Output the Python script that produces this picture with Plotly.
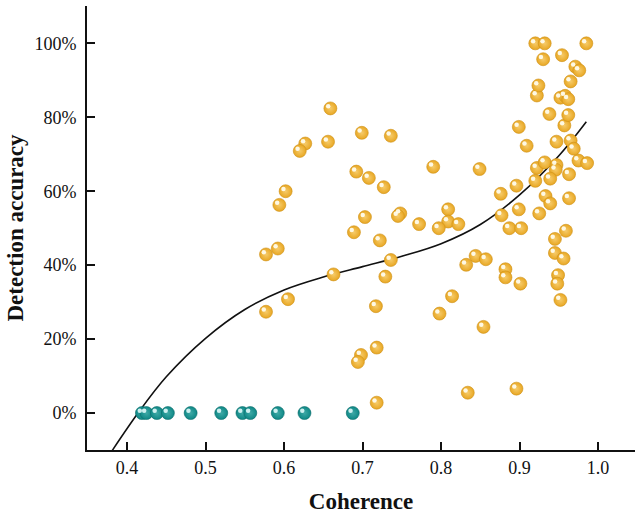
import plotly.graph_objects as go

# ---- data ----
orange_x = [0.659, 0.656, 0.627, 0.620, 0.699, 0.736, 0.602, 0.594, 0.692, 0.708,
            0.727, 0.592, 0.577, 0.703, 0.748, 0.745, 0.689, 0.722, 0.736, 0.729,
            0.663, 0.577, 0.605, 0.717, 0.718, 0.698, 0.694, 0.718,
            0.790, 0.849, 0.899, 0.909, 0.876, 0.896, 0.920, 0.922, 0.932, 0.947,
            0.946, 0.939, 0.963, 0.975, 0.986, 0.947, 0.965, 0.969, 0.957, 0.938,
            0.962, 0.952, 0.958, 0.962, 0.922, 0.924, 0.965, 0.971, 0.976, 0.930,
            0.954, 0.920, 0.932, 0.985, 0.809, 0.809, 0.822, 0.797, 0.772, 0.877,
            0.899, 0.887, 0.902, 0.925, 0.963, 0.933, 0.939, 0.959, 0.945, 0.945,
            0.956, 0.844, 0.857, 0.832, 0.882, 0.882, 0.901, 0.949, 0.948, 0.952,
            0.814, 0.798, 0.854, 0.834, 0.896]
orange_y = [82.4, 73.4, 72.9, 70.9, 75.8, 75.0, 60.0, 56.3, 65.3, 63.6,
            61.1, 44.5, 42.9, 53.0, 54.0, 53.3, 48.9, 46.7, 41.4, 36.9,
            37.5, 27.4, 30.8, 28.9, 17.7, 15.7, 13.8, 2.8,
            66.6, 66.0, 77.4, 72.3, 59.3, 61.5, 62.8, 66.3, 67.8, 67.1,
            65.8, 63.4, 64.6, 68.3, 67.6, 73.4, 73.7, 71.5, 77.8, 80.9,
            80.6, 85.3, 85.8, 84.9, 85.9, 88.6, 89.7, 93.7, 92.7, 95.7,
            96.8, 100.0, 100.0, 100.0, 55.1, 51.8, 51.1, 50.0, 51.1, 53.5,
            55.1, 50.0, 50.0, 54.0, 58.1, 58.7, 56.7, 49.3, 47.1, 43.3,
            41.8, 42.5, 41.6, 40.1, 38.9, 36.7, 35.0, 37.3, 35.0, 30.6,
            31.6, 26.9, 23.3, 5.5, 6.6]

teal_x = [0.419, 0.4246, 0.438, 0.452, 0.481, 0.520, 0.547, 0.557, 0.592, 0.626, 0.6875]
teal_y = [0, 0, 0, 0, 0, 0, 0, 0, 0, 0, 0]

curve_x = [0.376, 0.38, 0.414, 0.45, 0.50, 0.55, 0.60, 0.65, 0.70, 0.75,
           0.80, 0.85, 0.90, 0.95, 0.985]
curve_y = [-11.8, -10.5, 0.0, 9.8, 20.2, 28.0, 33.3, 36.8, 39.6, 42.4,
           45.8, 51.0, 59.0, 69.6, 78.8]

x_ticks = [0.4, 0.5, 0.6, 0.7, 0.8, 0.9, 1.0]
x_labels = ["0.4", "0.5", "0.6", "0.7", "0.8", "0.9", "1.0"]
y_ticks = [0, 20, 40, 60, 80, 100]
y_labels = ["0%", "20%", "40%", "60%", "80%", "100%"]

# ---- layout constants ----
W, H = 635, 514
ML, MR, MT, MB = 87, 0, 6, 64
XR = [0.349, 1.047]
YR = [-10.0, 110.1]
PW, PH = W - ML - MR, H - MT - MB
hx = 2.2 * (XR[1] - XR[0]) / PW   # highlight offset (left)
hy = 2.2 * (YR[1] - YR[0]) / PH   # highlight offset (up)

FONT = "Liberation Serif, Times New Roman, serif"
ORANGE = "#E8A723"
ORANGE_EDGE = "#CF9016"
TEAL = "#0E8886"
TEAL_EDGE = "#0A6C6A"

fig = go.Figure()

fig.add_trace(go.Scatter(x=curve_x, y=curve_y, mode="lines",
                         line=dict(color="#111111", width=1.6, shape="spline", smoothing=1.0),
                         hoverinfo="skip", showlegend=False))

fig.add_trace(go.Scatter(x=orange_x, y=orange_y, mode="markers", showlegend=False,
                         marker=dict(size=13, color=ORANGE,
                                     gradient=dict(type="radial", color="#F6CB6A"),
                                     line=dict(color=ORANGE_EDGE, width=0.6))))
fig.add_trace(go.Scatter(x=teal_x, y=teal_y, mode="markers", showlegend=False,
                         marker=dict(size=13, color=TEAL,
                                     gradient=dict(type="radial", color="#3FA9A6"),
                                     line=dict(color=TEAL_EDGE, width=0.6))))

# specular highlights, drawn on overlay axes shifted by a couple of pixels
fig.add_trace(go.Scatter(x=orange_x, y=orange_y, mode="markers", showlegend=False,
                         xaxis="x2", yaxis="y2", hoverinfo="skip",
                         marker=dict(size=4.5, color="rgba(255,255,245,0.9)", line=dict(width=0))))
fig.add_trace(go.Scatter(x=teal_x, y=teal_y, mode="markers", showlegend=False,
                         xaxis="x2", yaxis="y2", hoverinfo="skip",
                         marker=dict(size=4.5, color="rgba(235,255,255,0.85)", line=dict(width=0))))

axis_common = dict(showgrid=False, zeroline=False, showline=True, linecolor="#111111",
                   linewidth=2, ticks="inside", ticklen=8, tickwidth=2,
                   tickcolor="#111111", tickfont=dict(family=FONT, size=18, color="#111111"))

fig.update_layout(
    width=W, height=H,
    margin=dict(l=ML, r=MR, t=MT, b=MB),
    paper_bgcolor="white", plot_bgcolor="white",
    xaxis=dict(range=XR, tickmode="array", tickvals=x_ticks, ticktext=x_labels,
               title=dict(text="<b>Coherence</b>", font=dict(family=FONT, size=23, color="#111111"),
                          standoff=16),
               **axis_common),
    yaxis=dict(range=YR, tickmode="array", tickvals=y_ticks, ticktext=y_labels,
               ticklabelstandoff=5,
               title=dict(text="<b>Detection accuracy</b>", font=dict(family=FONT, size=23, color="#111111"),
                          standoff=4),
               **axis_common),
    xaxis2=dict(range=[XR[0] + hx, XR[1] + hx], overlaying="x", visible=False),
    yaxis2=dict(range=[YR[0] - hy, YR[1] - hy], overlaying="y", visible=False),
)

fig.write_html("out.html")
